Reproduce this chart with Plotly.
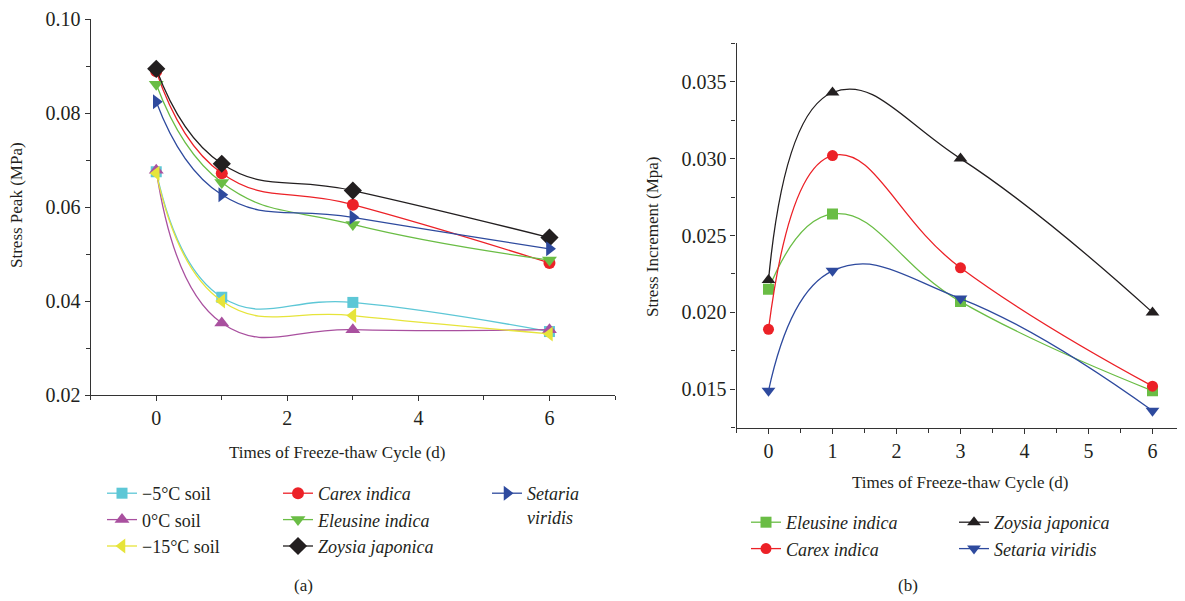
import plotly.graph_objects as go

# ---- data (a) ----
cycles_a = [0, 1, 3, 6]
soil_m5 = [0.0675, 0.0408, 0.0397, 0.0335]
soil_0 = [0.0678, 0.0353, 0.0339, 0.0339]
soil_m15 = [0.0672, 0.0400, 0.0369, 0.0330]
carex_a = [0.0889, 0.0672, 0.0605, 0.0481]
eleusine_a = [0.0861, 0.0652, 0.0563, 0.0487]
zoysia_a = [0.0894, 0.0692, 0.0635, 0.0535]
setaria_a = [0.0824, 0.0626, 0.0578, 0.0511]

# ---- data (b) ----
cycles_b = [0, 1, 3, 6]
eleusine_b = [0.0215, 0.0264, 0.0207, 0.0149]
carex_b = [0.0189, 0.0302, 0.0229, 0.0152]
zoysia_b = [0.0221, 0.0343, 0.0300, 0.0200]
setaria_b = [0.0149, 0.0227, 0.0209, 0.0136]

FONT = "Liberation Serif"
C_CYAN = "#5DC7D6"
C_MAG = "#A9509F"
C_YEL = "#E6E43A"
C_RED = "#EC2127"
C_GRN = "#6ABD45"
C_BLK = "#231F20"
C_BLU = "#2E4A9E"

# page body has an 8px margin: work in screen pixels and shift
OFF = 8
W, H = 1185 - OFF, 601 - OFF


def px(x):
    return (x - OFF) / W


def py(y):
    return (H - (y - OFF)) / H


fig = go.Figure()


def add(x, y, name, color, symbol, xa, ya, legend, size=12):
    fig.add_trace(go.Scatter(
        x=x, y=y, name=name, mode="lines+markers",
        line=dict(color=color, width=1.3, shape="spline", smoothing=1.3),
        marker=dict(color=color, symbol=symbol, size=size),
        xaxis=xa, yaxis=ya, legend=legend))


# panel (a)
add(cycles_a, soil_m5, "−5°C soil", C_CYAN, "square", "x", "y", "legend", 11)
add(cycles_a, soil_0, "0°C soil", C_MAG, "triangle-up", "x", "y", "legend", 13)
add(cycles_a, soil_m15, "−15°C soil", C_YEL, "triangle-left", "x", "y", "legend", 13)
add(cycles_a, carex_a, "<i>Carex indica</i>", C_RED, "circle", "x", "y", "legend2", 12)
add(cycles_a, eleusine_a, "<i>Eleusine indica</i>", C_GRN, "triangle-down", "x", "y", "legend2", 13)
add(cycles_a, zoysia_a, "<i>Zoysia japonica</i>", C_BLK, "diamond", "x", "y", "legend2", 14)
add(cycles_a, setaria_a, "<i>Setaria</i><br><i>viridis</i>", C_BLU, "triangle-right", "x", "y", "legend3", 13)

# panel (b)
add(cycles_b, eleusine_b, "<i>Eleusine indica</i>", C_GRN, "square", "x2", "y2", "legend4", 11)
add(cycles_b, carex_b, "<i>Carex indica</i>", C_RED, "circle", "x2", "y2", "legend4", 11)
add(cycles_b, zoysia_b, "<i>Zoysia japonica</i>", C_BLK, "triangle-up", "x2", "y2", "legend5", 12)
add(cycles_b, setaria_b, "<i>Setaria viridis</i>", C_BLU, "triangle-down", "x2", "y2", "legend5", 12)

axis_common = dict(showline=True, linecolor="#333", linewidth=1.2, showgrid=False,
                   zeroline=False, ticks="outside", ticklen=5, tickcolor="#333", automargin=False,
                   ticklabeloverflow="allow",
                   tickfont=dict(family=FONT, size=20, color="#231F20"))

fig.update_layout(
    width=W, height=H, margin=dict(l=0, r=0, t=0, b=0, autoexpand=False),
    paper_bgcolor="white", plot_bgcolor="white",
    font=dict(family=FONT, color="#231F20"),
    xaxis=dict(domain=[px(90.7), px(615)], range=[-1, 7], tick0=0, dtick=2,
               minor=dict(dtick=1, tick0=0, ticks="outside", ticklen=4, tickcolor="#333"),
               anchor="y", **axis_common),
    yaxis=dict(domain=[py(395), py(19)], range=[0.02, 0.10], tick0=0.02, dtick=0.02,
               tickformat=".2f",
               minor=dict(dtick=0.01, tick0=0.02, ticks="outside", ticklen=4, tickcolor="#333"),
               anchor="x", **axis_common),
    xaxis2=dict(domain=[px(736.5), px(1184.5)], range=[-0.5, 6.5], tick0=0, dtick=1,
                minor=dict(dtick=0.5, tick0=0, ticks="outside", ticklen=4, tickcolor="#333"),
                anchor="y2", **axis_common),
    yaxis2=dict(domain=[py(427.7), py(43.3)], range=[0.0125, 0.0375], tick0=0.015,
                dtick=0.005, tickformat=".3f",
                minor=dict(dtick=0.0025, tick0=0.015, ticks="outside", ticklen=4, tickcolor="#333"),
                anchor="x2", **axis_common),
    showlegend=True,
)

leg_common = dict(orientation="v", xanchor="left", yanchor="top", bgcolor="rgba(0,0,0,0)",
                  borderwidth=0, font=dict(family=FONT, size=18, color="#231F20"),
                  tracegroupgap=0, valign="top", itemwidth=30)

fig.update_layout(
    legend=dict(x=px(102), y=py(475), **leg_common),
    legend2=dict(x=px(278), y=py(475), **leg_common),
    legend3=dict(x=px(487), y=py(475), **leg_common),
    legend4=dict(x=px(746), y=py(504), **leg_common),
    legend5=dict(x=px(954), y=py(504), **leg_common),
)

ann_font = dict(family=FONT, size=17, color="#231F20")


def ann(text, x, y, angle=0):
    fig.add_annotation(text=text, x=px(x), y=py(y), xref="paper", yref="paper",
                       textangle=angle, showarrow=False, font=ann_font,
                       xanchor="center", yanchor="middle")


ann("Stress Peak (MPa)", 17, 205, -90)
ann("Times of Freeze-thaw Cycle (d)", 337, 452)
ann("Stress Increment (Mpa)", 652, 237, -90)
ann("Times of Freeze-thaw Cycle (d)", 960, 482)
ann("(a)", 303, 585)
ann("(b)", 908, 585)

fig.write_html("out.html")
